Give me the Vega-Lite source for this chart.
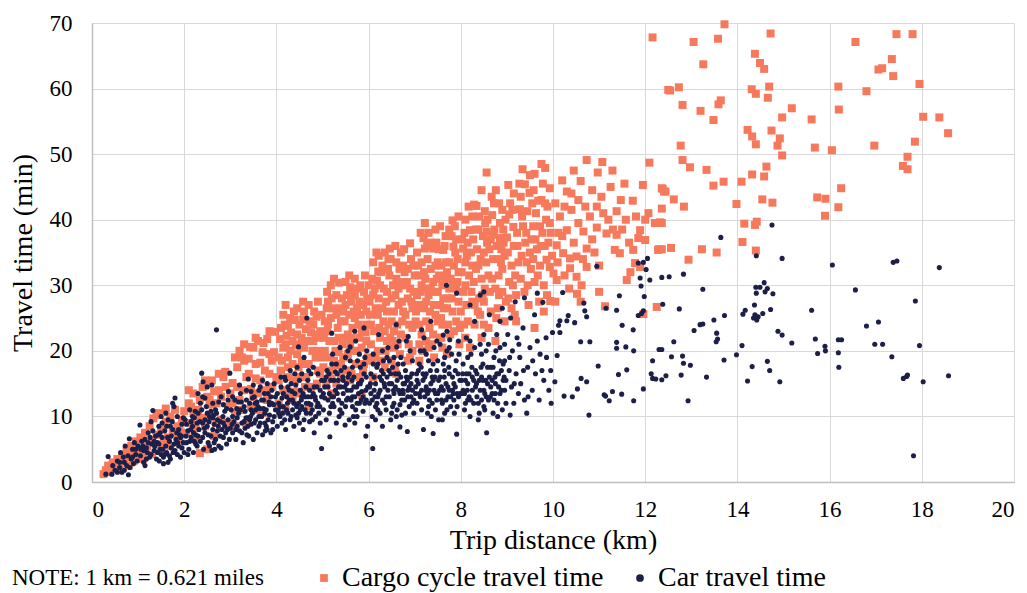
{
"$schema":"https://vega.github.io/schema/vega-lite/v6.json",
"width":922,"height":459,
"autosize":"none",
"padding":{"left":92,"top":23,"right":13,"bottom":111},
"background":"white",
"config":{"font":"Liberation Serif","view":{"stroke":null},
"axis":{"gridColor":"#d9d9d9","gridWidth":1,"domainColor":"#bfbfbf","domainWidth":1.5,"ticks":false,"tickSize":0,"labelFont":"Liberation Serif","titleFont":"Liberation Serif","labelColor":"#000","titleColor":"#000","labelFontSize":23,"titleFontSize":28,"titleFontWeight":"normal"},
"legend":{"labelFont":"Liberation Serif","titleFont":"Liberation Serif"}},
"datasets":{
"cargo":[
{"x":0.25,"y":1.2},{"x":0.3,"y":1.8},{"x":0.35,"y":2.5},{"x":0.4,"y":1.5},{"x":0.45,"y":3.0},{"x":0.5,"y":2.2},{"x":0.55,"y":3.5},{"x":0.6,"y":2.8},{"x":0.65,"y":4.0},{"x":0.7,"y":3.2},{"x":0.75,"y":4.8},{"x":0.8,"y":3.8},{"x":0.85,"y":5.5},{"x":0.9,"y":4.4},{"x":0.95,"y":6.2},{"x":1.0,"y":5.0},{"x":0.6,"y":1.8},{"x":0.8,"y":2.5},{"x":0.9,"y":3.2},{"x":1.0,"y":3.8},
{"x":1.05,"y":6.8},{"x":1.1,"y":4.5},{"x":1.15,"y":7.5},{"x":1.2,"y":5.5},{"x":1.25,"y":8.5},{"x":1.3,"y":6.3},{"x":1.33,"y":9.7},{"x":1.4,"y":7.2},{"x":1.45,"y":10.5},{"x":1.5,"y":8.0},{"x":1.55,"y":5.8},{"x":1.6,"y":9.2},{"x":1.65,"y":6.8},{"x":1.7,"y":10.0},{"x":1.75,"y":7.5},{"x":1.8,"y":11.0},{"x":1.85,"y":8.5},{"x":1.9,"y":6.5},{"x":1.95,"y":9.5},{"x":2.0,"y":10.8},{"x":1.3,"y":4.2},{"x":1.5,"y":4.8},{"x":1.7,"y":5.5},{"x":1.9,"y":7.8},{"x":1.1,"y":3.5},{"x":1.4,"y":10.2},{"x":1.6,"y":11.2},
{"x":2.05,"y":7.5},{"x":2.1,"y":12.0},{"x":2.15,"y":9.0},{"x":2.2,"y":13.5},{"x":2.25,"y":6.5},{"x":2.3,"y":11.0},{"x":2.34,"y":12.5},{"x":2.4,"y":14.5},{"x":2.45,"y":8.5},{"x":2.5,"y":13.0},{"x":2.55,"y":10.0},{"x":2.6,"y":15.5},{"x":2.65,"y":7.0},{"x":2.7,"y":12.0},{"x":2.75,"y":14.0},{"x":2.8,"y":9.5},{"x":2.85,"y":16.0},{"x":2.89,"y":16.8},{"x":2.95,"y":11.5},{"x":3.0,"y":13.5},{"x":2.2,"y":10.5},{"x":2.4,"y":9.8},{"x":2.6,"y":11.8},{"x":2.8,"y":13.0},{"x":2.5,"y":5.0},{"x":2.34,"y":4.4},{"x":2.1,"y":14.0},
{"x":2.15,"y":11.5},{"x":2.35,"y":9.5},{"x":2.55,"y":12.5},{"x":2.7,"y":9.0},{"x":2.9,"y":14.5},{"x":2.45,"y":15.5},{"x":2.65,"y":13.8},{"x":2.95,"y":9.0},{"x":2.25,"y":8.2},{"x":2.75,"y":16.5},
{"x":3.05,"y":15.1},{"x":3.1,"y":10.5},{"x":3.15,"y":17.5},{"x":3.2,"y":12.5},{"x":3.25,"y":19.0},{"x":3.3,"y":14.0},{"x":3.35,"y":9.0},{"x":3.4,"y":16.5},{"x":3.43,"y":20.6},{"x":3.5,"y":13.0},{"x":3.55,"y":18.0},{"x":3.6,"y":11.0},{"x":3.65,"y":15.5},{"x":3.72,"y":21.2},{"x":3.75,"y":17.0},{"x":3.8,"y":12.5},{"x":3.85,"y":19.5},{"x":3.9,"y":14.5},{"x":3.97,"y":22.9},{"x":4.0,"y":16.0},{"x":3.3,"y":18.5},{"x":3.5,"y":20.5},{"x":3.7,"y":19.8},{"x":3.6,"y":13.5},{"x":3.9,"y":18.5},{"x":3.1,"y":8.5},{"x":3.45,"y":11.5},
{"x":3.05,"y":12.0},{"x":3.15,"y":14.5},{"x":3.25,"y":11.0},{"x":3.35,"y":16.0},{"x":3.45,"y":14.2},{"x":3.55,"y":15.8},{"x":3.65,"y":18.2},{"x":3.75,"y":14.0},{"x":3.85,"y":16.5},{"x":3.95,"y":19.8},{"x":3.2,"y":20.0},{"x":3.4,"y":18.8},{"x":3.6,"y":21.5},{"x":3.8,"y":21.8},{"x":3.7,"y":10.5},{"x":3.3,"y":21.0},{"x":3.55,"y":22.0},{"x":3.85,"y":23.0},{"x":3.1,"y":19.0},
{"x":4.05,"y":19.0},{"x":4.1,"y":23.5},{"x":4.15,"y":14.0},{"x":4.2,"y":21.0},{"x":4.22,"y":22.3},{"x":4.25,"y":17.5},{"x":4.3,"y":25.0},{"x":4.35,"y":12.5},{"x":4.4,"y":24.7},{"x":4.45,"y":19.5},{"x":4.5,"y":16.0},{"x":4.55,"y":22.0},{"x":4.6,"y":26.0},{"x":4.64,"y":23.3},{"x":4.7,"y":18.0},{"x":4.75,"y":14.5},{"x":4.8,"y":21.5},{"x":4.87,"y":25.2},{"x":4.9,"y":17.0},{"x":4.95,"y":23.0},{"x":4.1,"y":17.0},{"x":4.3,"y":20.0},{"x":4.5,"y":13.5},{"x":4.7,"y":11.5},{"x":4.4,"y":15.5},{"x":4.6,"y":20.5},{"x":4.8,"y":24.0},{"x":4.2,"y":11.0},{"x":4.9,"y":20.0},
{"x":4.05,"y":15.5},{"x":4.15,"y":20.5},{"x":4.25,"y":23.8},{"x":4.35,"y":18.0},{"x":4.45,"y":22.5},{"x":4.55,"y":18.5},{"x":4.65,"y":16.0},{"x":4.75,"y":22.8},{"x":4.85,"y":19.0},{"x":4.95,"y":16.5},{"x":4.15,"y":25.5},{"x":4.5,"y":24.0},{"x":4.7,"y":27.0},{"x":4.9,"y":27.5},{"x":4.35,"y":21.5},{"x":4.05,"y":12.0},
{"x":4.12,"y":18.5},{"x":4.28,"y":16.0},{"x":4.42,"y":20.8},{"x":4.58,"y":24.8},{"x":4.62,"y":18.0},{"x":4.78,"y":20.0},{"x":4.92,"y":22.0},{"x":4.2,"y":27.0},{"x":4.45,"y":26.5},{"x":4.68,"y":21.5},{"x":4.82,"y":26.0},{"x":4.98,"y":25.5},{"x":4.3,"y":13.0},{"x":4.62,"y":14.5},{"x":4.88,"y":15.0},
{"x":4.08,"y":21.8},{"x":4.18,"y":24.0},{"x":4.32,"y":22.8},{"x":4.38,"y":26.0},{"x":4.48,"y":17.5},{"x":4.52,"y":21.0},{"x":4.72,"y":24.5},{"x":4.85,"y":22.5},{"x":4.95,"y":19.0},{"x":4.25,"y":19.0},{"x":4.58,"y":27.5},{"x":4.4,"y":13.8},
{"x":5.05,"y":20.0},{"x":5.09,"y":26.5},{"x":5.1,"y":23.0},{"x":5.15,"y":17.0},{"x":5.2,"y":28.0},{"x":5.25,"y":21.5},{"x":5.3,"y":15.0},{"x":5.36,"y":30.4},{"x":5.4,"y":24.5},{"x":5.45,"y":19.0},{"x":5.5,"y":27.0},{"x":5.55,"y":22.5},{"x":5.6,"y":29.7},{"x":5.63,"y":16.5},{"x":5.67,"y":29.3},{"x":5.7,"y":25.0},{"x":5.75,"y":20.0},{"x":5.8,"y":27.5},{"x":5.85,"y":23.0},{"x":5.9,"y":18.0},{"x":5.95,"y":26.0},{"x":6.0,"y":30.0},{"x":5.2,"y":13.5},{"x":5.4,"y":18.0},{"x":5.85,"y":13.3},{"x":5.3,"y":25.5},{"x":5.6,"y":21.0},{"x":5.8,"y":16.0},{"x":5.1,"y":19.0},{"x":5.7,"y":28.5},{"x":5.95,"y":21.5},
{"x":5.05,"y":24.5},{"x":5.15,"y":21.5},{"x":5.25,"y":18.5},{"x":5.35,"y":22.0},{"x":5.45,"y":26.0},{"x":5.55,"y":19.5},{"x":5.65,"y":23.5},{"x":5.75,"y":26.5},{"x":5.85,"y":20.5},{"x":5.95,"y":24.0},{"x":5.1,"y":29.0},{"x":5.3,"y":28.5},{"x":5.5,"y":30.5},{"x":5.7,"y":31.0},{"x":5.9,"y":29.0},{"x":5.4,"y":16.0},{"x":5.6,"y":15.5},{"x":5.8,"y":22.0},{"x":5.2,"y":15.8},{"x":5.35,"y":19.8},
{"x":5.02,"y":17.5},{"x":5.18,"y":25.0},{"x":5.28,"y":20.0},{"x":5.42,"y":28.0},{"x":5.48,"y":22.0},{"x":5.58,"y":25.5},{"x":5.68,"y":20.0},{"x":5.78,"y":24.0},{"x":5.88,"y":27.0},{"x":5.98,"y":19.0},{"x":5.12,"y":27.5},{"x":5.38,"y":26.5},{"x":5.62,"y":27.5},{"x":5.82,"y":30.0},{"x":5.52,"y":17.0},{"x":5.72,"y":18.0},{"x":5.25,"y":31.0},{"x":5.92,"y":31.5},
{"x":5.03,"y":22.0},{"x":5.12,"y":24.0},{"x":5.22,"y":26.5},{"x":5.33,"y":23.5},{"x":5.43,"y":21.0},{"x":5.53,"y":28.5},{"x":5.63,"y":22.0},{"x":5.73,"y":29.5},{"x":5.83,"y":25.5},{"x":5.93,"y":22.8},{"x":5.08,"y":15.0},{"x":5.28,"y":17.8},{"x":5.48,"y":24.5},{"x":5.68,"y":26.0},{"x":5.88,"y":17.0},{"x":5.97,"y":28.0},{"x":5.58,"y":31.5},{"x":5.18,"y":30.0},
{"x":6.05,"y":24.0},{"x":6.1,"y":28.5},{"x":6.15,"y":19.0},{"x":6.18,"y":30.7},{"x":6.21,"y":32.1},{"x":6.25,"y":22.0},{"x":6.3,"y":26.5},{"x":6.35,"y":17.5},{"x":6.4,"y":29.0},{"x":6.43,"y":34.0},{"x":6.46,"y":35.6},{"x":6.5,"y":24.5},{"x":6.55,"y":20.5},{"x":6.6,"y":31.0},{"x":6.65,"y":27.0},{"x":6.7,"y":22.5},{"x":6.75,"y":33.0},{"x":6.8,"y":25.5},{"x":6.85,"y":18.5},{"x":6.9,"y":36.4},{"x":6.9,"y":29.5},{"x":6.95,"y":23.5},{"x":7.0,"y":31.5},{"x":7.0,"y":27.0},{"x":6.2,"y":25.5},{"x":6.4,"y":21.5},{"x":6.6,"y":16.5},{"x":6.8,"y":30.0},{"x":6.1,"y":16.0},{"x":6.5,"y":28.0},{"x":6.3,"y":33.0},{"x":6.7,"y":35.0},{"x":6.95,"y":20.0},{"x":6.55,"y":26.0},
{"x":6.05,"y":21.0},{"x":6.15,"y":26.5},{"x":6.25,"y":30.0},{"x":6.35,"y":23.0},{"x":6.45,"y":31.5},{"x":6.55,"y":23.0},{"x":6.65,"y":29.5},{"x":6.75,"y":26.0},{"x":6.85,"y":32.5},{"x":6.95,"y":26.5},{"x":6.1,"y":33.5},{"x":6.4,"y":26.0},{"x":6.6,"y":33.5},{"x":6.8,"y":22.0},{"x":6.9,"y":19.0},{"x":6.2,"y":20.0},{"x":6.5,"y":18.5},{"x":6.7,"y":30.5},{"x":6.35,"y":35.0},{"x":6.85,"y":28.0},
{"x":6.02,"y":27.5},{"x":6.12,"y":23.0},{"x":6.22,"y":28.0},{"x":6.28,"y":18.5},{"x":6.38,"y":27.5},{"x":6.42,"y":32.5},{"x":6.52,"y":21.5},{"x":6.58,"y":28.5},{"x":6.62,"y":24.0},{"x":6.72,"y":27.5},{"x":6.78,"y":32.0},{"x":6.88,"y":24.0},{"x":6.98,"y":29.0},{"x":6.08,"y":31.0},{"x":6.32,"y":24.5},{"x":6.48,"y":34.0},{"x":6.68,"y":19.5},{"x":6.92,"y":34.0},{"x":6.22,"y":34.5},{"x":6.58,"y":36.0},
{"x":6.03,"y":25.5},{"x":6.13,"y":29.5},{"x":6.23,"y":23.5},{"x":6.33,"y":29.5},{"x":6.43,"y":24.0},{"x":6.53,"y":30.0},{"x":6.63,"y":21.0},{"x":6.73,"y":24.5},{"x":6.83,"y":30.5},{"x":6.93,"y":27.5},{"x":6.07,"y":18.5},{"x":6.27,"y":32.0},{"x":6.47,"y":22.0},{"x":6.67,"y":32.5},{"x":6.87,"y":21.0},{"x":6.17,"y":35.0},{"x":6.57,"y":17.5},{"x":6.77,"y":35.5},{"x":6.97,"y":33.0},{"x":6.37,"y":20.0},
{"x":7.05,"y":35.0},{"x":7.1,"y":24.0},{"x":7.15,"y":30.0},{"x":7.19,"y":37.2},{"x":7.22,"y":39.5},{"x":7.22,"y":35.6},{"x":7.25,"y":27.5},{"x":7.3,"y":20.5},{"x":7.35,"y":32.5},{"x":7.4,"y":35.6},{"x":7.45,"y":25.5},{"x":7.5,"y":29.0},{"x":7.55,"y":22.0},{"x":7.62,"y":35.4},{"x":7.65,"y":31.0},{"x":7.7,"y":26.5},{"x":7.75,"y":33.5},{"x":7.82,"y":39.9},{"x":7.84,"y":35.9},{"x":7.85,"y":23.0},{"x":7.9,"y":29.5},{"x":7.95,"y":32.0},{"x":8.0,"y":26.0},{"x":7.1,"y":18.5},{"x":7.3,"y":28.5},{"x":7.5,"y":33.5},{"x":7.7,"y":19.5},{"x":7.9,"y":37.0},{"x":7.6,"y":24.0},{"x":7.4,"y":30.5},{"x":7.2,"y":32.0},{"x":7.8,"y":28.0},{"x":7.15,"y":22.5},
{"x":7.05,"y":28.5},{"x":7.15,"y":33.5},{"x":7.25,"y":24.5},{"x":7.35,"y":29.5},{"x":7.45,"y":33.0},{"x":7.55,"y":27.0},{"x":7.65,"y":36.0},{"x":7.75,"y":29.5},{"x":7.85,"y":33.0},{"x":7.95,"y":27.5},{"x":7.1,"y":21.0},{"x":7.3,"y":38.0},{"x":7.5,"y":24.5},{"x":7.7,"y":32.0},{"x":7.9,"y":24.5},{"x":7.4,"y":22.5},{"x":7.6,"y":30.0},{"x":7.8,"y":37.5},{"x":7.2,"y":26.5},{"x":7.45,"y":38.5},
{"x":7.02,"y":24.5},{"x":7.08,"y":31.5},{"x":7.12,"y":27.0},{"x":7.22,"y":29.5},{"x":7.28,"y":34.0},{"x":7.32,"y":23.5},{"x":7.42,"y":27.0},{"x":7.48,"y":31.0},{"x":7.52,"y":35.5},{"x":7.58,"y":22.0},{"x":7.62,"y":28.0},{"x":7.68,"y":33.5},{"x":7.72,"y":24.0},{"x":7.78,"y":31.0},{"x":7.82,"y":26.0},{"x":7.88,"y":35.0},{"x":7.92,"y":30.5},{"x":7.98,"y":23.5},{"x":7.35,"y":36.5},{"x":7.55,"y":39.0},{"x":7.75,"y":38.5},{"x":7.95,"y":40.5},{"x":7.25,"y":21.5},{"x":7.6,"y":20.5},
{"x":7.03,"y":26.0},{"x":7.13,"y":29.0},{"x":7.23,"y":31.0},{"x":7.33,"y":26.0},{"x":7.43,"y":29.0},{"x":7.53,"y":31.5},{"x":7.63,"y":26.5},{"x":7.73,"y":28.0},{"x":7.83,"y":30.0},{"x":7.93,"y":34.0},{"x":7.07,"y":33.0},{"x":7.27,"y":36.0},{"x":7.47,"y":36.5},{"x":7.67,"y":37.5},{"x":7.87,"y":39.0},{"x":7.17,"y":20.0},{"x":7.37,"y":21.0},{"x":7.57,"y":25.0},{"x":7.77,"y":22.5},{"x":7.97,"y":21.0},{"x":7.13,"y":38.0},{"x":7.58,"y":33.0},{"x":7.42,"y":19.0},
{"x":8.05,"y":35.6},{"x":8.1,"y":30.0},{"x":8.15,"y":24.5},{"x":8.2,"y":38.4},{"x":8.25,"y":33.0},{"x":8.29,"y":42.3},{"x":8.34,"y":42.1},{"x":8.38,"y":38.5},{"x":8.4,"y":28.0},{"x":8.45,"y":22.0},{"x":8.52,"y":41.3},{"x":8.56,"y":47.2},{"x":8.56,"y":38.2},{"x":8.6,"y":31.5},{"x":8.65,"y":26.0},{"x":8.68,"y":40.7},{"x":8.71,"y":37.7},{"x":8.76,"y":44.5},{"x":8.8,"y":34.0},{"x":8.83,"y":42.5},{"x":8.85,"y":37.2},{"x":8.9,"y":29.0},{"x":8.95,"y":24.5},{"x":9.0,"y":37.3},{"x":8.2,"y":20.5},{"x":8.5,"y":35.0},{"x":8.75,"y":21.5},{"x":8.3,"y":27.0},{"x":8.9,"y":32.5},{"x":8.1,"y":33.5},
{"x":8.05,"y":29.0},{"x":8.15,"y":36.5},{"x":8.25,"y":27.5},{"x":8.35,"y":35.5},{"x":8.45,"y":31.0},{"x":8.55,"y":33.5},{"x":8.65,"y":37.0},{"x":8.75,"y":29.5},{"x":8.85,"y":39.5},{"x":8.95,"y":34.5},{"x":8.1,"y":40.0},{"x":8.4,"y":40.5},{"x":8.6,"y":23.5},{"x":8.8,"y":26.5},{"x":8.3,"y":24.0},{"x":8.5,"y":27.5},{"x":8.7,"y":34.0},{"x":8.9,"y":41.5},
{"x":8.02,"y":32.0},{"x":8.08,"y":38.0},{"x":8.12,"y":27.0},{"x":8.18,"y":31.5},{"x":8.22,"y":35.0},{"x":8.28,"y":30.5},{"x":8.32,"y":38.5},{"x":8.38,"y":33.0},{"x":8.42,"y":25.5},{"x":8.48,"y":37.5},{"x":8.52,"y":29.5},{"x":8.58,"y":40.0},{"x":8.62,"y":35.5},{"x":8.68,"y":31.0},{"x":8.72,"y":42.5},{"x":8.78,"y":36.0},{"x":8.82,"y":31.5},{"x":8.88,"y":35.5},{"x":8.92,"y":38.5},{"x":8.98,"y":27.5},{"x":8.45,"y":44.5},{"x":8.25,"y":40.5},
{"x":8.03,"y":37.0},{"x":8.13,"y":34.5},{"x":8.23,"y":29.0},{"x":8.33,"y":32.5},{"x":8.43,"y":34.0},{"x":8.53,"y":39.5},{"x":8.63,"y":29.0},{"x":8.73,"y":38.5},{"x":8.83,"y":28.5},{"x":8.93,"y":36.5},{"x":8.07,"y":24.0},{"x":8.27,"y":37.0},{"x":8.47,"y":28.5},{"x":8.67,"y":43.5},{"x":8.87,"y":33.5},{"x":8.17,"y":42.0},{"x":8.37,"y":26.0},{"x":8.57,"y":36.5},{"x":8.77,"y":25.0},{"x":8.97,"y":40.0},{"x":8.1,"y":22.0},{"x":8.5,"y":24.0},
{"x":9.03,"y":45.3},{"x":9.05,"y":40.8},{"x":9.1,"y":33.0},{"x":9.14,"y":38.9},{"x":9.2,"y":28.5},{"x":9.28,"y":41.6},{"x":9.34,"y":47.7},{"x":9.39,"y":45.4},{"x":9.44,"y":41.3},{"x":9.49,"y":44.1},{"x":9.5,"y":46.8},{"x":9.5,"y":35.0},{"x":9.57,"y":39.0},{"x":9.6,"y":30.5},{"x":9.68,"y":42.9},{"x":9.72,"y":39.0},{"x":9.75,"y":48.5},{"x":9.75,"y":43.0},{"x":9.8,"y":26.0},{"x":9.83,"y":47.9},{"x":9.86,"y":33.9},{"x":9.93,"y":44.8},{"x":9.93,"y":32.8},{"x":9.94,"y":27.6},{"x":9.2,"y":24.5},{"x":9.4,"y":36.5},{"x":9.6,"y":23.5},{"x":9.3,"y":31.0},{"x":9.9,"y":36.5},
{"x":9.05,"y":30.5},{"x":9.15,"y":36.0},{"x":9.25,"y":33.5},{"x":9.35,"y":39.0},{"x":9.45,"y":30.0},{"x":9.55,"y":42.5},{"x":9.65,"y":35.5},{"x":9.7,"y":27.5},{"x":9.85,"y":40.0},{"x":9.95,"y":38.0},{"x":9.1,"y":26.5},{"x":9.3,"y":43.5},{"x":9.6,"y":47.0},{"x":9.8,"y":30.0},
{"x":9.02,"y":35.0},{"x":9.12,"y":41.5},{"x":9.18,"y":31.5},{"x":9.22,"y":38.0},{"x":9.32,"y":34.5},{"x":9.38,"y":29.0},{"x":9.42,"y":38.0},{"x":9.52,"y":32.5},{"x":9.58,"y":44.5},{"x":9.62,"y":37.0},{"x":9.72,"y":33.0},{"x":9.78,"y":45.5},{"x":9.82,"y":36.0},{"x":9.88,"y":42.0},{"x":9.98,"y":34.5},{"x":9.15,"y":44.0},
{"x":9.03,"y":28.0},{"x":9.13,"y":30.0},{"x":9.23,"y":36.0},{"x":9.33,"y":40.5},{"x":9.43,"y":33.5},{"x":9.53,"y":37.0},{"x":9.63,"y":41.0},{"x":9.73,"y":36.0},{"x":9.83,"y":42.5},{"x":9.93,"y":39.5},{"x":9.07,"y":42.5},{"x":9.27,"y":45.5},{"x":9.47,"y":27.0},{"x":9.67,"y":31.5},{"x":9.87,"y":28.5},{"x":9.17,"y":25.5},{"x":9.57,"y":34.0},{"x":9.77,"y":38.0},
{"x":10.1,"y":33.5},{"x":10.2,"y":37.5},{"x":10.35,"y":29.5},{"x":10.4,"y":44.0},{"x":10.55,"y":39.5},{"x":10.65,"y":34.0},{"x":10.7,"y":42.0},{"x":10.85,"y":37.0},{"x":10.95,"y":42.0},{"x":10.05,"y":27.5},{"x":10.25,"y":42.0},{"x":10.6,"y":27.5},
{"x":10.05,"y":42.5},{"x":10.12,"y":38.0},{"x":10.2,"y":46.0},{"x":10.25,"y":31.5},{"x":10.4,"y":41.5},{"x":10.45,"y":36.5},{"x":10.55,"y":43.0},{"x":10.62,"y":30.0},{"x":10.8,"y":40.5},{"x":10.85,"y":44.5},{"x":10.9,"y":35.0},{"x":11.0,"y":33.0},{"x":11.05,"y":43.5},{"x":11.25,"y":45.0},{"x":11.3,"y":38.5},{"x":11.5,"y":38.5},{"x":11.55,"y":45.5},{"x":11.65,"y":36.5},{"x":11.8,"y":40.5},{"x":11.68,"y":32.0},{"x":10.45,"y":47.5},{"x":11.0,"y":29.0},
{"x":10.01,"y":31.8},{"x":10.08,"y":30.8},{"x":10.08,"y":36.1},{"x":10.15,"y":40.5},{"x":10.22,"y":34.9},{"x":10.3,"y":44.3},{"x":10.3,"y":38.4},{"x":10.37,"y":34.1},{"x":10.37,"y":32.6},{"x":10.51,"y":34.4},{"x":10.51,"y":31.3},{"x":10.52,"y":28.7},{"x":10.6,"y":45.9},{"x":10.66,"y":38.2},{"x":10.73,"y":49.1},{"x":10.73,"y":35.6},{"x":10.73,"y":32.8},{"x":10.95,"y":38.8},{"x":10.97,"y":47.2},{"x":11.07,"y":48.8},{"x":11.09,"y":41.0},{"x":11.13,"y":26.8},{"x":11.16,"y":37.9},{"x":11.2,"y":40.0},{"x":11.29,"y":47.5},{"x":11.34,"y":35.4},{"x":11.38,"y":41.3},{"x":11.38,"y":37.7},{"x":11.45,"y":34.9},{"x":11.47,"y":43.0},{"x":11.58,"y":40.0},{"x":11.6,"y":30.8},{"x":11.73,"y":42.9},{"x":11.74,"y":35.4},{"x":11.78,"y":33.4},{"x":11.85,"y":37.2},{"x":11.89,"y":38.4},{"x":11.89,"y":32.8},{"x":11.95,"y":45.3},{"x":12.0,"y":40.0},{"x":12.0,"y":36.9},{"x":12.07,"y":41.0},{"x":12.09,"y":48.7},{"x":12.16,"y":67.8},{"x":12.21,"y":39.5},{"x":12.25,"y":26.7},{"x":12.28,"y":35.4},{"x":12.32,"y":39.6},{"x":12.36,"y":44.8},{"x":12.41,"y":44.3},{"x":12.5,"y":59.8},{"x":12.36,"y":41.7},{"x":12.36,"y":39.5},{"x":12.36,"y":35.5},{"x":11.96,"y":25.6},{"x":12.3,"y":35.5},
{"x":13.72,"y":69.8},{"x":13.05,"y":67.1},{"x":13.58,"y":67.6},{"x":13.26,"y":63.7},{"x":14.72,"y":68.4},{"x":12.54,"y":59.7},{"x":12.73,"y":60.2},{"x":12.81,"y":57.5},{"x":13.2,"y":56.6},{"x":13.48,"y":55.2},{"x":13.59,"y":57.6},{"x":13.64,"y":58.2},{"x":14.38,"y":65.3},{"x":14.49,"y":63.9},{"x":14.58,"y":63.0},{"x":14.31,"y":59.9},{"x":14.4,"y":59.2},{"x":14.69,"y":60.3},{"x":14.66,"y":58.6},{"x":15.18,"y":57.0},{"x":14.97,"y":55.6},{"x":15.61,"y":55.3},{"x":16.19,"y":60.3},{"x":16.2,"y":56.8},{"x":16.56,"y":67.1},{"x":16.8,"y":59.6},{"x":17.06,"y":62.9},{"x":17.14,"y":63.1},{"x":17.35,"y":64.5},{"x":17.38,"y":61.9},{"x":17.45,"y":68.3},{"x":17.8,"y":68.3},{"x":17.95,"y":60.7},{"x":18.03,"y":55.7},{"x":18.38,"y":55.6},{"x":18.57,"y":53.2},{"x":17.85,"y":51.9},{"x":17.69,"y":49.6},{"x":17.59,"y":48.2},{"x":17.69,"y":47.7},{"x":16.97,"y":51.3},{"x":16.05,"y":50.6},{"x":15.68,"y":51.0},{"x":16.25,"y":44.8},{"x":15.73,"y":43.4},{"x":15.91,"y":43.2},{"x":16.19,"y":41.9},{"x":15.9,"y":40.6},{"x":14.74,"y":53.6},{"x":14.92,"y":52.4},{"x":14.87,"y":51.3},{"x":14.97,"y":49.8},{"x":14.22,"y":53.7},{"x":14.32,"y":52.7},{"x":14.4,"y":51.5},{"x":12.77,"y":51.3},{"x":12.81,"y":49.1},{"x":12.97,"y":48.0},{"x":13.33,"y":47.6},{"x":13.48,"y":45.2},{"x":13.7,"y":45.8},{"x":14.09,"y":45.8},{"x":14.32,"y":46.9},{"x":14.58,"y":46.6},{"x":14.63,"y":48.1},{"x":13.98,"y":42.4},{"x":14.54,"y":43.1},{"x":14.76,"y":42.6},{"x":12.38,"y":44.7},{"x":12.44,"y":44.3},{"x":12.62,"y":43.1},{"x":12.84,"y":42.0},{"x":14.15,"y":39.4},{"x":14.38,"y":39.2},{"x":14.42,"y":39.7},{"x":14.11,"y":36.6},{"x":14.4,"y":35.3},{"x":13.23,"y":35.5},{"x":13.55,"y":35.0},{"x":12.94,"y":33.9},{"x":12.56,"y":35.7}
],
"car":[
{"x":0.3,"y":1.2},{"x":0.35,"y":3.9},{"x":0.43,"y":1.2},{"x":0.45,"y":2.5},{"x":0.5,"y":1.8},{"x":0.55,"y":3.2},{"x":0.6,"y":2.2},{"x":0.62,"y":4.5},{"x":0.65,"y":1.5},{"x":0.7,"y":3.0},{"x":0.72,"y":5.5},{"x":0.75,"y":2.5},{"x":0.78,"y":4.0},{"x":0.81,"y":6.6},{"x":0.85,"y":3.5},{"x":0.88,"y":5.0},{"x":0.9,"y":2.8},{"x":0.92,"y":6.0},{"x":0.95,"y":4.2},{"x":1.0,"y":5.5},{"x":0.98,"y":3.2},{"x":0.7,"y":1.8},{"x":0.79,"y":1.1},
{"x":0.55,"y":1.5},{"x":0.68,"y":3.8},{"x":0.82,"y":2.2},{"x":0.95,"y":5.0},{"x":0.6,"y":3.0},{"x":0.88,"y":3.8},
{"x":1.04,"y":8.7},{"x":1.05,"y":4.0},{"x":1.1,"y":5.5},{"x":1.12,"y":3.0},{"x":1.15,"y":6.5},{"x":1.2,"y":4.5},{"x":1.22,"y":7.5},{"x":1.25,"y":3.8},{"x":1.3,"y":5.8},{"x":1.32,"y":10.9},{"x":1.35,"y":4.8},{"x":1.38,"y":7.0},{"x":1.4,"y":3.5},{"x":1.42,"y":6.0},{"x":1.45,"y":8.5},{"x":1.48,"y":5.0},{"x":1.5,"y":4.2},{"x":1.52,"y":6.8},{"x":1.55,"y":3.8},{"x":1.58,"y":7.8},{"x":1.6,"y":5.5},{"x":1.62,"y":4.5},{"x":1.65,"y":9.5},{"x":1.68,"y":6.2},{"x":1.7,"y":3.5},{"x":1.72,"y":5.2},{"x":1.75,"y":8.0},{"x":1.78,"y":11.5},{"x":1.8,"y":12.8},{"x":1.8,"y":4.8},{"x":1.82,"y":6.5},{"x":1.85,"y":10.0},{"x":1.88,"y":5.5},{"x":1.9,"y":7.2},{"x":1.92,"y":3.8},{"x":1.95,"y":8.8},{"x":1.98,"y":6.0},{"x":2.0,"y":4.5},{"x":1.15,"y":2.5},{"x":1.55,"y":2.8},{"x":1.28,"y":9.2},{"x":1.6,"y":10.5},{"x":1.75,"y":12.0},
{"x":1.08,"y":6.2},{"x":1.18,"y":5.2},{"x":1.28,"y":4.2},{"x":1.32,"y":7.8},{"x":1.42,"y":4.5},{"x":1.48,"y":7.5},{"x":1.58,"y":4.2},{"x":1.62,"y":8.5},{"x":1.72,"y":7.0},{"x":1.78,"y":5.8},{"x":1.85,"y":4.2},{"x":1.92,"y":6.8},{"x":1.98,"y":9.8},{"x":1.45,"y":5.8},{"x":1.65,"y":3.0},{"x":1.88,"y":8.0},
{"x":1.12,"y":4.8},{"x":1.22,"y":6.0},{"x":1.35,"y":6.2},{"x":1.46,"y":3.2},{"x":1.52,"y":9.0},{"x":1.68,"y":4.0},{"x":1.74,"y":9.2},{"x":1.84,"y":7.5},{"x":1.95,"y":5.2},{"x":2.08,"y":4.2},{"x":2.2,"y":7.5},{"x":2.28,"y":9.0},{"x":2.4,"y":6.8},{"x":2.5,"y":10.5},{"x":2.62,"y":8.0},{"x":2.68,"y":11.0},{"x":2.8,"y":5.2},{"x":2.88,"y":8.5},{"x":2.95,"y":12.5},{"x":2.62,"y":9.8},{"x":2.35,"y":12.0},{"x":2.15,"y":9.2},
{"x":1.06,"y":5.0},{"x":1.18,"y":3.5},{"x":1.26,"y":6.8},{"x":1.36,"y":5.4},{"x":1.44,"y":7.2},{"x":1.54,"y":5.0},{"x":1.64,"y":6.8},{"x":1.7,"y":8.5},{"x":1.76,"y":4.5},{"x":1.86,"y":6.0},{"x":1.94,"y":7.0},{"x":1.5,"y":10.0},
{"x":2.02,"y":9.5},{"x":2.05,"y":6.0},{"x":2.08,"y":7.8},{"x":2.1,"y":5.0},{"x":2.12,"y":11.0},{"x":2.15,"y":6.8},{"x":2.18,"y":8.5},{"x":2.2,"y":4.5},{"x":2.22,"y":9.8},{"x":2.25,"y":7.2},{"x":2.28,"y":5.5},{"x":2.3,"y":10.5},{"x":2.32,"y":8.0},{"x":2.35,"y":6.2},{"x":2.38,"y":16.6},{"x":2.41,"y":15.3},{"x":2.4,"y":9.0},{"x":2.42,"y":5.0},{"x":2.45,"y":7.5},{"x":2.48,"y":11.5},{"x":2.5,"y":8.5},{"x":2.52,"y":6.0},{"x":2.55,"y":10.0},{"x":2.58,"y":7.0},{"x":2.6,"y":4.8},{"x":2.62,"y":12.0},{"x":2.65,"y":8.8},{"x":2.68,"y":6.5},{"x":2.7,"y":23.2},{"x":2.7,"y":10.5},{"x":2.72,"y":7.8},{"x":2.75,"y":5.5},{"x":2.78,"y":9.2},{"x":2.8,"y":13.0},{"x":2.82,"y":8.0},{"x":2.85,"y":6.8},{"x":2.88,"y":10.8},{"x":2.9,"y":7.5},{"x":2.92,"y":5.8},{"x":2.95,"y":9.5},{"x":2.99,"y":16.6},{"x":3.0,"y":8.2},{"x":2.5,"y":14.5},{"x":2.3,"y":13.5},{"x":2.6,"y":14.8},{"x":2.85,"y":11.8},
{"x":2.05,"y":8.8},{"x":2.12,"y":6.2},{"x":2.18,"y":10.0},{"x":2.25,"y":5.8},{"x":2.3,"y":7.0},{"x":2.38,"y":11.0},{"x":2.45,"y":9.5},{"x":2.52,"y":7.2},{"x":2.58,"y":10.8},{"x":2.65,"y":6.0},{"x":2.72,"y":9.5},{"x":2.78,"y":7.0},{"x":2.85,"y":9.0},{"x":2.92,"y":11.2},{"x":2.98,"y":6.5},{"x":2.55,"y":5.5},{"x":2.45,"y":12.8},{"x":2.75,"y":12.2},
{"x":2.04,"y":7.0},{"x":2.14,"y":8.0},{"x":2.24,"y":10.8},{"x":2.34,"y":9.2},{"x":2.44,"y":8.2},{"x":2.54,"y":9.2},{"x":2.64,"y":10.2},{"x":2.74,"y":8.5},{"x":2.84,"y":10.0},{"x":2.94,"y":8.0},{"x":2.22,"y":6.2},{"x":2.66,"y":5.0},{"x":2.96,"y":13.8},{"x":2.4,"y":13.0},
{"x":3.02,"y":11.0},{"x":3.05,"y":7.5},{"x":3.08,"y":9.2},{"x":3.1,"y":12.5},{"x":3.12,"y":6.5},{"x":3.15,"y":8.5},{"x":3.18,"y":10.5},{"x":3.2,"y":7.8},{"x":3.22,"y":13.5},{"x":3.25,"y":9.0},{"x":3.28,"y":6.0},{"x":3.3,"y":11.5},{"x":3.32,"y":8.2},{"x":3.35,"y":14.0},{"x":3.38,"y":9.8},{"x":3.39,"y":15.7},{"x":3.4,"y":7.0},{"x":3.42,"y":12.0},{"x":3.45,"y":8.8},{"x":3.48,"y":10.5},{"x":3.5,"y":6.5},{"x":3.52,"y":13.0},{"x":3.55,"y":9.5},{"x":3.58,"y":7.5},{"x":3.6,"y":11.5},{"x":3.62,"y":8.5},{"x":3.65,"y":14.5},{"x":3.68,"y":10.0},{"x":3.7,"y":7.2},{"x":3.72,"y":12.5},{"x":3.75,"y":9.0},{"x":3.78,"y":11.0},{"x":3.8,"y":8.0},{"x":3.82,"y":13.5},{"x":3.85,"y":10.2},{"x":3.88,"y":7.5},{"x":3.9,"y":12.0},{"x":3.92,"y":9.2},{"x":3.95,"y":15.0},{"x":3.98,"y":11.0},
{"x":3.05,"y":10.0},{"x":3.12,"y":8.0},{"x":3.18,"y":12.2},{"x":3.25,"y":7.5},{"x":3.32,"y":10.8},{"x":3.38,"y":8.5},{"x":3.45,"y":11.0},{"x":3.52,"y":9.0},{"x":3.58,"y":12.2},{"x":3.65,"y":9.0},{"x":3.72,"y":11.2},{"x":3.78,"y":8.5},{"x":3.85,"y":11.8},{"x":3.92,"y":8.0},{"x":3.98,"y":13.0},{"x":3.45,"y":13.8},{"x":3.62,"y":14.0},
{"x":3.05,"y":13.0},{"x":3.15,"y":9.8},{"x":3.22,"y":11.0},{"x":3.3,"y":9.2},{"x":3.35,"y":12.5},{"x":3.42,"y":9.5},{"x":3.48,"y":12.8},{"x":3.55,"y":11.0},{"x":3.62,"y":10.0},{"x":3.68,"y":12.5},{"x":3.75,"y":10.5},{"x":3.82,"y":9.5},{"x":3.88,"y":13.0},{"x":3.95,"y":10.0},{"x":3.7,"y":15.5},{"x":3.9,"y":14.0},
{"x":3.04,"y":8.8},{"x":3.14,"y":11.2},{"x":3.24,"y":12.2},{"x":3.34,"y":9.8},{"x":3.44,"y":10.0},{"x":3.54,"y":12.0},{"x":3.64,"y":11.2},{"x":3.74,"y":13.5},{"x":3.84,"y":12.2},{"x":3.94,"y":11.8},{"x":3.2,"y":14.8},{"x":3.5,"y":14.8},{"x":3.8,"y":15.0},{"x":3.36,"y":7.2},{"x":3.76,"y":7.8},
{"x":4.02,"y":8.5},{"x":4.05,"y":12.0},{"x":4.08,"y":10.0},{"x":4.1,"y":14.5},{"x":4.12,"y":9.0},{"x":4.15,"y":11.5},{"x":4.18,"y":16.0},{"x":4.2,"y":8.0},{"x":4.22,"y":13.0},{"x":4.25,"y":10.5},{"x":4.28,"y":12.5},{"x":4.3,"y":9.5},{"x":4.32,"y":15.0},{"x":4.35,"y":11.0},{"x":4.38,"y":8.5},{"x":4.4,"y":13.5},{"x":4.42,"y":10.2},{"x":4.45,"y":17.5},{"x":4.48,"y":12.0},{"x":4.5,"y":9.0},{"x":4.52,"y":14.0},{"x":4.55,"y":11.5},{"x":4.58,"y":8.0},{"x":4.6,"y":19.0},{"x":4.62,"y":13.0},{"x":4.65,"y":10.5},{"x":4.68,"y":15.5},{"x":4.7,"y":12.0},{"x":4.72,"y":9.2},{"x":4.75,"y":16.5},{"x":4.78,"y":11.0},{"x":4.8,"y":13.5},{"x":4.82,"y":7.5},{"x":4.85,"y":10.0},{"x":4.88,"y":14.5},{"x":4.9,"y":12.0},{"x":4.66,"y":25.0},{"x":4.95,"y":9.0},{"x":4.98,"y":15.5},{"x":4.98,"y":5.1},{"x":5.16,"y":6.9},{"x":4.48,"y":20.6},
{"x":4.05,"y":10.5},{"x":4.12,"y":12.8},{"x":4.18,"y":9.5},{"x":4.25,"y":14.5},{"x":4.32,"y":10.0},{"x":4.38,"y":12.0},{"x":4.45,"y":9.8},{"x":4.52,"y":11.0},{"x":4.58,"y":13.5},{"x":4.65,"y":12.0},{"x":4.72,"y":14.0},{"x":4.78,"y":9.5},{"x":4.85,"y":12.5},{"x":4.92,"y":10.5},{"x":4.98,"y":13.0},{"x":4.3,"y":17.0},{"x":4.55,"y":16.5},{"x":4.8,"y":17.5},
{"x":4.02,"y":13.5},{"x":4.08,"y":11.5},{"x":4.15,"y":13.5},{"x":4.22,"y":11.0},{"x":4.28,"y":14.0},{"x":4.35,"y":12.5},{"x":4.42,"y":14.8},{"x":4.48,"y":10.5},{"x":4.55,"y":13.0},{"x":4.62,"y":11.0},{"x":4.68,"y":13.0},{"x":4.75,"y":11.8},{"x":4.82,"y":14.5},{"x":4.88,"y":11.5},{"x":4.95,"y":14.0},{"x":4.2,"y":15.5},{"x":4.5,"y":15.5},{"x":4.75,"y":13.0},
{"x":4.04,"y":11.0},{"x":4.14,"y":10.5},{"x":4.24,"y":12.0},{"x":4.34,"y":13.8},{"x":4.44,"y":11.5},{"x":4.54,"y":12.5},{"x":4.64,"y":14.5},{"x":4.74,"y":10.5},{"x":4.84,"y":13.0},{"x":4.94,"y":11.5},{"x":4.1,"y":16.0},{"x":4.4,"y":16.5},{"x":4.7,"y":17.0},{"x":4.9,"y":16.5},{"x":4.6,"y":9.5},
{"x":5.02,"y":11.0},{"x":5.05,"y":14.5},{"x":5.08,"y":9.5},{"x":5.1,"y":17.0},{"x":5.12,"y":12.5},{"x":5.15,"y":10.5},{"x":5.18,"y":15.5},{"x":5.2,"y":13.0},{"x":5.2,"y":22.7},{"x":5.22,"y":19.5},{"x":5.25,"y":11.5},{"x":5.28,"y":14.0},{"x":5.3,"y":9.0},{"x":5.32,"y":16.5},{"x":5.35,"y":12.5},{"x":5.38,"y":20.5},{"x":5.4,"y":14.5},{"x":5.42,"y":10.5},{"x":5.45,"y":13.5},{"x":5.48,"y":17.5},{"x":5.49,"y":8.7},{"x":5.5,"y":11.5},{"x":5.52,"y":15.0},{"x":5.55,"y":12.8},{"x":5.58,"y":9.5},{"x":5.6,"y":18.5},{"x":5.6,"y":20.6},{"x":5.62,"y":14.0},{"x":5.65,"y":11.5},{"x":5.67,"y":10.0},{"x":5.68,"y":16.0},{"x":5.7,"y":13.0},{"x":5.72,"y":21.5},{"x":5.75,"y":10.0},{"x":5.78,"y":15.0},{"x":5.8,"y":12.0},{"x":5.82,"y":17.5},{"x":5.85,"y":13.8},{"x":5.88,"y":10.8},{"x":5.9,"y":16.5},{"x":5.92,"y":19.0},{"x":5.94,"y":7.0},{"x":5.95,"y":12.5},{"x":5.98,"y":8.5},{"x":5.7,"y":23.0},{"x":5.9,"y":23.5},
{"x":5.05,"y":12.8},{"x":5.12,"y":14.5},{"x":5.18,"y":11.5},{"x":5.25,"y":15.5},{"x":5.32,"y":13.5},{"x":5.38,"y":11.0},{"x":5.45,"y":15.5},{"x":5.52,"y":12.5},{"x":5.58,"y":16.5},{"x":5.65,"y":13.0},{"x":5.72,"y":11.0},{"x":5.78,"y":13.5},{"x":5.85,"y":15.5},{"x":5.92,"y":12.0},{"x":5.98,"y":14.5},{"x":5.3,"y":18.0},{"x":5.55,"y":20.0},{"x":5.8,"y":19.5},
{"x":5.02,"y":13.5},{"x":5.08,"y":16.0},{"x":5.15,"y":13.5},{"x":5.22,"y":12.0},{"x":5.28,"y":16.8},{"x":5.35,"y":14.5},{"x":5.42,"y":12.0},{"x":5.48,"y":14.5},{"x":5.55,"y":16.0},{"x":5.62,"y":12.5},{"x":5.68,"y":14.5},{"x":5.75,"y":12.0},{"x":5.82,"y":15.0},{"x":5.88,"y":13.0},{"x":5.95,"y":16.0},{"x":5.4,"y":17.0},{"x":5.65,"y":17.5},{"x":5.9,"y":18.0},
{"x":5.04,"y":15.5},{"x":5.14,"y":16.5},{"x":5.24,"y":13.0},{"x":5.34,"y":15.5},{"x":5.44,"y":16.0},{"x":5.54,"y":14.0},{"x":5.64,"y":15.5},{"x":5.74,"y":14.5},{"x":5.84,"y":12.5},{"x":5.94,"y":14.0},{"x":5.2,"y":18.0},{"x":5.5,"y":19.0},{"x":5.76,"y":18.5},{"x":5.96,"y":20.0},{"x":5.36,"y":10.0},{"x":5.7,"y":9.0},
{"x":6.02,"y":12.0},{"x":6.05,"y":16.5},{"x":6.08,"y":10.0},{"x":6.09,"y":5.1},{"x":6.1,"y":19.5},{"x":6.12,"y":14.0},{"x":6.15,"y":11.5},{"x":6.18,"y":17.5},{"x":6.2,"y":13.0},{"x":6.22,"y":22.5},{"x":6.25,"y":10.5},{"x":6.28,"y":15.5},{"x":6.3,"y":12.5},{"x":6.3,"y":8.5},{"x":6.32,"y":18.5},{"x":6.35,"y":14.5},{"x":6.38,"y":11.0},{"x":6.4,"y":16.0},{"x":6.42,"y":20.5},{"x":6.45,"y":13.0},{"x":6.48,"y":9.5},{"x":6.5,"y":15.0},{"x":6.52,"y":17.5},{"x":6.55,"y":12.0},{"x":6.58,"y":14.5},{"x":6.6,"y":24.0},{"x":6.61,"y":20.6},{"x":6.62,"y":11.0},{"x":6.65,"y":16.5},{"x":6.68,"y":13.5},{"x":6.68,"y":8.4},{"x":6.7,"y":19.0},{"x":6.72,"y":10.2},{"x":6.75,"y":15.0},{"x":6.78,"y":12.5},{"x":6.8,"y":17.0},{"x":6.82,"y":21.5},{"x":6.84,"y":7.7},{"x":6.85,"y":14.0},{"x":6.86,"y":22.2},{"x":6.88,"y":11.5},{"x":6.9,"y":16.0},{"x":6.92,"y":13.0},{"x":6.95,"y":18.5},{"x":6.98,"y":10.5},
{"x":6.05,"y":13.5},{"x":6.12,"y":16.0},{"x":6.18,"y":12.0},{"x":6.25,"y":14.0},{"x":6.32,"y":16.5},{"x":6.38,"y":13.0},{"x":6.45,"y":15.0},{"x":6.52,"y":11.5},{"x":6.58,"y":16.5},{"x":6.65,"y":14.0},{"x":6.72,"y":12.5},{"x":6.78,"y":15.0},{"x":6.85,"y":13.0},{"x":6.92,"y":15.0},{"x":6.98,"y":12.5},{"x":6.3,"y":20.0},{"x":6.55,"y":19.0},{"x":6.75,"y":18.0},
{"x":6.02,"y":14.5},{"x":6.08,"y":12.5},{"x":6.15,"y":15.0},{"x":6.22,"y":13.5},{"x":6.28,"y":17.0},{"x":6.35,"y":12.0},{"x":6.42,"y":14.0},{"x":6.48,"y":16.5},{"x":6.55,"y":13.5},{"x":6.62,"y":15.5},{"x":6.68,"y":11.8},{"x":6.75,"y":13.5},{"x":6.82,"y":16.0},{"x":6.88,"y":14.5},{"x":6.95,"y":12.0},{"x":6.2,"y":18.0},{"x":6.45,"y":18.5},{"x":6.7,"y":16.0},{"x":6.95,"y":14.0},{"x":6.15,"y":9.5},{"x":6.6,"y":10.0},
{"x":6.04,"y":15.0},{"x":6.14,"y":13.0},{"x":6.24,"y":16.0},{"x":6.34,"y":15.0},{"x":6.44,"y":17.0},{"x":6.54,"y":14.0},{"x":6.64,"y":18.0},{"x":6.74,"y":14.0},{"x":6.84,"y":15.5},{"x":6.94,"y":16.5},{"x":6.1,"y":18.0},{"x":6.4,"y":19.0},{"x":6.66,"y":21.5},{"x":6.9,"y":20.0},{"x":6.2,"y":11.0},{"x":6.5,"y":10.5},{"x":6.8,"y":10.5},
{"x":7.02,"y":14.5},{"x":7.05,"y":12.0},{"x":7.08,"y":17.0},{"x":7.1,"y":13.5},{"x":7.12,"y":20.0},{"x":7.15,"y":11.0},{"x":7.15,"y":23.2},{"x":7.18,"y":15.5},{"x":7.19,"y":8.0},{"x":7.2,"y":22.0},{"x":7.22,"y":13.0},{"x":7.25,"y":16.5},{"x":7.28,"y":10.5},{"x":7.3,"y":18.5},{"x":7.32,"y":14.0},{"x":7.35,"y":24.5},{"x":7.38,"y":12.0},{"x":7.4,"y":7.4},{"x":7.4,"y":15.5},{"x":7.42,"y":20.5},{"x":7.45,"y":11.0},{"x":7.48,"y":17.0},{"x":7.5,"y":13.5},{"x":7.52,"y":9.5},{"x":7.55,"y":21.0},{"x":7.58,"y":14.5},{"x":7.6,"y":12.0},{"x":7.62,"y":18.0},{"x":7.62,"y":22.4},{"x":7.65,"y":10.5},{"x":7.68,"y":15.0},{"x":7.69,"y":30.0},{"x":7.7,"y":23.0},{"x":7.72,"y":13.0},{"x":7.75,"y":16.5},{"x":7.76,"y":21.7},{"x":7.78,"y":11.5},{"x":7.8,"y":19.5},{"x":7.82,"y":14.0},{"x":7.85,"y":12.5},{"x":7.88,"y":17.0},{"x":7.91,"y":7.3},{"x":7.91,"y":28.8},{"x":7.92,"y":13.5},{"x":7.95,"y":21.5},{"x":7.98,"y":15.5},
{"x":7.05,"y":15.5},{"x":7.12,"y":13.0},{"x":7.18,"y":16.5},{"x":7.25,"y":14.5},{"x":7.32,"y":12.5},{"x":7.38,"y":16.0},{"x":7.45,"y":13.5},{"x":7.52,"y":15.5},{"x":7.58,"y":12.5},{"x":7.65,"y":17.0},{"x":7.72,"y":14.5},{"x":7.78,"y":13.0},{"x":7.85,"y":15.0},{"x":7.92,"y":11.5},{"x":7.98,"y":13.5},{"x":7.25,"y":19.5},{"x":7.5,"y":18.5},{"x":7.75,"y":20.5},
{"x":7.02,"y":13.5},{"x":7.08,"y":15.0},{"x":7.15,"y":14.0},{"x":7.22,"y":16.0},{"x":7.28,"y":13.5},{"x":7.35,"y":15.0},{"x":7.42,"y":14.0},{"x":7.48,"y":12.5},{"x":7.55,"y":16.0},{"x":7.62,"y":14.0},{"x":7.68,"y":12.5},{"x":7.75,"y":14.0},{"x":7.82,"y":16.0},{"x":7.88,"y":14.5},{"x":7.95,"y":13.0},{"x":7.1,"y":18.0},{"x":7.4,"y":18.0},{"x":7.65,"y":19.0},{"x":7.9,"y":18.5},{"x":7.3,"y":11.5},{"x":7.7,"y":11.0},
{"x":7.04,"y":16.5},{"x":7.14,"y":17.5},{"x":7.24,"y":14.0},{"x":7.34,"y":17.0},{"x":7.44,"y":16.0},{"x":7.54,"y":14.0},{"x":7.64,"y":16.0},{"x":7.74,"y":17.5},{"x":7.84,"y":13.5},{"x":7.94,"y":16.5},{"x":7.2,"y":20.0},{"x":7.48,"y":21.5},{"x":7.7,"y":20.0},{"x":7.96,"y":19.5},{"x":7.36,"y":10.0},{"x":7.6,"y":9.5},{"x":7.86,"y":10.5},
{"x":8.02,"y":13.5},{"x":8.05,"y":18.0},{"x":8.08,"y":11.0},{"x":8.1,"y":15.5},{"x":8.12,"y":22.0},{"x":8.15,"y":12.5},{"x":8.18,"y":16.5},{"x":8.2,"y":10.0},{"x":8.2,"y":27.0},{"x":8.22,"y":19.5},{"x":8.25,"y":14.0},{"x":8.28,"y":12.0},{"x":8.3,"y":24.5},{"x":8.32,"y":17.0},{"x":8.35,"y":13.0},{"x":8.38,"y":9.5},{"x":8.4,"y":15.5},{"x":8.42,"y":21.0},{"x":8.42,"y":28.5},{"x":8.45,"y":12.5},{"x":8.48,"y":18.0},{"x":8.5,"y":14.0},{"x":8.5,"y":29.0},{"x":8.52,"y":11.0},{"x":8.55,"y":20.0},{"x":8.56,"y":7.5},{"x":8.58,"y":15.0},{"x":8.6,"y":12.5},{"x":8.62,"y":25.5},{"x":8.65,"y":17.5},{"x":8.68,"y":13.5},{"x":8.7,"y":10.5},{"x":8.72,"y":19.0},{"x":8.75,"y":15.0},{"x":8.78,"y":22.5},{"x":8.8,"y":12.0},{"x":8.82,"y":16.5},{"x":8.85,"y":20.5},{"x":8.88,"y":14.0},{"x":8.9,"y":26.5},{"x":8.92,"y":18.0},{"x":8.95,"y":21.0},{"x":8.98,"y":15.5},
{"x":8.05,"y":14.0},{"x":8.12,"y":16.5},{"x":8.18,"y":13.0},{"x":8.25,"y":16.0},{"x":8.32,"y":14.5},{"x":8.38,"y":12.0},{"x":8.45,"y":16.0},{"x":8.52,"y":13.5},{"x":8.58,"y":17.5},{"x":8.65,"y":14.5},{"x":8.72,"y":12.5},{"x":8.78,"y":16.5},{"x":8.85,"y":13.5},{"x":8.92,"y":15.5},{"x":8.98,"y":12.0},{"x":8.3,"y":20.5},{"x":8.6,"y":21.0},{"x":8.85,"y":24.5},
{"x":8.02,"y":15.5},{"x":8.08,"y":13.5},{"x":8.15,"y":15.0},{"x":8.22,"y":12.5},{"x":8.28,"y":15.5},{"x":8.35,"y":16.5},{"x":8.42,"y":14.0},{"x":8.48,"y":15.5},{"x":8.55,"y":13.0},{"x":8.62,"y":16.0},{"x":8.68,"y":15.5},{"x":8.75,"y":13.5},{"x":8.82,"y":14.5},{"x":8.88,"y":17.0},{"x":8.95,"y":14.0},{"x":8.15,"y":19.0},{"x":8.45,"y":19.5},{"x":8.7,"y":17.5},{"x":8.95,"y":18.5},{"x":8.1,"y":12.0},{"x":8.5,"y":11.5},{"x":8.9,"y":11.0},
{"x":8.04,"y":16.5},{"x":8.14,"y":14.0},{"x":8.24,"y":17.5},{"x":8.34,"y":15.0},{"x":8.44,"y":17.5},{"x":8.54,"y":15.5},{"x":8.64,"y":13.0},{"x":8.74,"y":16.0},{"x":8.84,"y":18.5},{"x":8.94,"y":16.0},{"x":8.2,"y":21.5},{"x":8.5,"y":22.5},{"x":8.76,"y":20.0},{"x":8.4,"y":10.5},{"x":8.8,"y":10.0},
{"x":9.02,"y":22.5},{"x":9.05,"y":17.0},{"x":9.07,"y":10.2},{"x":9.08,"y":25.0},{"x":9.1,"y":14.5},{"x":9.12,"y":20.0},{"x":9.15,"y":12.0},{"x":9.18,"y":27.5},{"x":9.2,"y":16.5},{"x":9.22,"y":22.0},{"x":9.25,"y":13.5},{"x":9.28,"y":19.0},{"x":9.3,"y":15.0},{"x":9.35,"y":23.5},{"x":9.38,"y":28.1},{"x":9.38,"y":12.5},{"x":9.43,"y":10.5},{"x":9.45,"y":17.5},{"x":9.5,"y":20.5},{"x":9.55,"y":14.0},{"x":9.6,"y":25.5},{"x":9.62,"y":16.5},{"x":9.66,"y":28.8},{"x":9.7,"y":12.5},{"x":9.72,"y":19.5},{"x":9.78,"y":27.4},{"x":9.8,"y":15.5},{"x":9.85,"y":22.0},{"x":9.91,"y":14.0},{"x":9.95,"y":17.0},{"x":9.99,"y":22.8},
{"x":9.06,"y":19.0},{"x":9.16,"y":15.0},{"x":9.26,"y":21.0},{"x":9.36,"y":17.0},{"x":9.46,"y":13.0},{"x":9.56,"y":18.5},{"x":9.66,"y":21.5},{"x":9.76,"y":17.0},{"x":9.86,"y":19.0},{"x":9.96,"y":12.0},
{"x":10.04,"y":15.3},{"x":10.09,"y":19.3},{"x":10.12,"y":23.9},{"x":10.15,"y":24.6},{"x":10.15,"y":22.8},{"x":10.21,"y":28.9},{"x":10.24,"y":13.1},{"x":10.3,"y":24.6},{"x":10.33,"y":25.4},{"x":10.42,"y":13.0},{"x":10.47,"y":24.3},{"x":10.53,"y":14.2},{"x":10.6,"y":21.4},{"x":10.61,"y":15.8},{"x":10.67,"y":27.3},{"x":10.69,"y":26.1},{"x":10.73,"y":25.2},{"x":10.73,"y":15.3},{"x":10.78,"y":10.2},{"x":10.8,"y":21.4},{"x":10.95,"y":32.9},{"x":10.98,"y":17.7},{"x":11.11,"y":13.3},{"x":11.14,"y":13.1},{"x":11.15,"y":26.5},{"x":11.22,"y":12.4},{"x":11.29,"y":13.8},{"x":11.38,"y":26.2},{"x":11.38,"y":21.3},{"x":11.38,"y":20.4},{"x":11.42,"y":16.4},{"x":11.44,"y":28.4},{"x":11.49,"y":13.4},{"x":11.5,"y":23.9},{"x":11.58,"y":20.6},{"x":11.6,"y":17.1},{"x":11.74,"y":23.2},{"x":11.75,"y":20.0},{"x":11.75,"y":12.4},{"x":11.85,"y":25.4},{"x":11.92,"y":25.7},{"x":11.96,"y":26.1},{"x":11.96,"y":14.2},{"x":11.98,"y":28.3},{"x":11.85,"y":33.4},{"x":11.96,"y":33.5},{"x":12.05,"y":34.1},{"x":12.02,"y":32.4},{"x":11.89,"y":31.1},{"x":12.1,"y":30.8},{"x":11.91,"y":29.9},
{"x":12.13,"y":16.5},{"x":12.16,"y":15.8},{"x":12.16,"y":18.5},{"x":12.23,"y":15.7},{"x":12.3,"y":20.2},{"x":12.36,"y":15.6},{"x":12.38,"y":27.1},{"x":12.36,"y":31.2},{"x":12.52,"y":31.3},{"x":12.83,"y":31.7},{"x":12.36,"y":20.2},{"x":12.45,"y":16.2},{"x":12.62,"y":21.4},{"x":12.57,"y":19.1},{"x":12.81,"y":19.2},{"x":12.83,"y":18.1},{"x":12.98,"y":17.8},{"x":12.78,"y":16.3},{"x":12.93,"y":12.4},{"x":12.74,"y":26.4},{"x":13.06,"y":23.1},{"x":13.19,"y":24.0},{"x":13.25,"y":24.1},{"x":13.25,"y":29.4},{"x":13.33,"y":16.0},{"x":13.49,"y":24.7},{"x":13.55,"y":22.7},{"x":13.54,"y":21.4},{"x":13.57,"y":21.8},{"x":13.64,"y":37.3},{"x":13.71,"y":18.6},{"x":13.72,"y":25.4},{"x":13.98,"y":19.4},{"x":14.1,"y":20.8},{"x":14.12,"y":25.6},{"x":14.17,"y":26.2},{"x":14.22,"y":15.4},{"x":14.32,"y":17.6},{"x":14.37,"y":27.0},{"x":14.35,"y":25.0},{"x":14.42,"y":24.7},{"x":14.38,"y":25.5},{"x":14.45,"y":25.2},{"x":14.4,"y":29.7},{"x":14.49,"y":29.7},{"x":14.58,"y":30.4},{"x":14.65,"y":29.5},{"x":14.6,"y":29.0},{"x":14.77,"y":28.7},{"x":14.41,"y":28.8},{"x":14.41,"y":34.5},{"x":14.55,"y":25.7},{"x":14.65,"y":18.4},{"x":14.7,"y":17.0},{"x":14.72,"y":26.3},{"x":14.75,"y":39.2},{"x":14.88,"y":23.0},{"x":14.92,"y":15.3},{"x":14.97,"y":22.4},{"x":14.97,"y":34.1},{"x":15.18,"y":21.2},{"x":15.61,"y":26.2},{"x":15.69,"y":21.8},{"x":15.74,"y":19.6},{"x":15.9,"y":20.7},{"x":15.91,"y":20.0},{"x":16.06,"y":33.1},{"x":16.19,"y":21.7},{"x":16.26,"y":21.7},{"x":16.19,"y":19.7},{"x":16.2,"y":17.5},{"x":16.56,"y":29.3},{"x":16.8,"y":23.8},{"x":16.98,"y":21.0},{"x":17.06,"y":24.4},{"x":17.15,"y":21.0},{"x":17.35,"y":19.1},{"x":17.38,"y":33.5},{"x":17.46,"y":33.7},{"x":17.6,"y":15.8},{"x":17.67,"y":16.1},{"x":17.69,"y":16.3},{"x":17.82,"y":4.0},{"x":17.86,"y":27.6},{"x":17.95,"y":20.8},{"x":18.03,"y":15.3},{"x":18.38,"y":32.7},{"x":18.58,"y":16.2}
]},
"layer":[
{"data":{"name":"cargo"},"mark":{"type":"point","filled":true,"opacity":1,"size":64},
"encoding":{
"x":{"field":"x","type":"quantitative","scale":{"domain":[0,20]},"axis":{"values":[0,2,4,6,8,10,12,14,16,18,20],"title":"Trip distance (km)","labelPadding":16,"titlePadding":5}},
"y":{"field":"y","type":"quantitative","scale":{"domain":[0,70]},"axis":{"values":[0,10,20,30,40,50,60,70],"title":"Travel time (min)","labelPadding":20,"titlePadding":12}},
"color":{"datum":"Cargo cycle travel time","scale":{"domain":["Cargo cycle travel time","Car travel time"],"range":["#F7795C","#1C1F47"]},
"legend":{"orient":"none","legendX":-80,"legendY":541,"direction":"horizontal","title":"NOTE: 1 km = 0.621 miles","titleLimit":500,"titleOrient":"left","titleFontSize":23,"titleFontWeight":"normal","titleColor":"#000","titlePadding":46,"titleBaseline":"middle","labelFontSize":28,"labelColor":"#000","labelLimit":500,"labelOffset":4,"columnPadding":22,"symbolSize":60,"symbolStrokeWidth":0,
"encode":{"symbols":{"update":{"size":{"signal":"datum.value === 'Car travel time' ? 22 : 60"},"strokeWidth":{"value":0},"opacity":{"value":1}}}}}},
"shape":{"datum":"Cargo cycle travel time","scale":{"domain":["Cargo cycle travel time","Car travel time"],"range":["square","circle"]},
"legend":{"orient":"none","legendX":-80,"legendY":541,"direction":"horizontal","title":"NOTE: 1 km = 0.621 miles","titleLimit":500,"titleOrient":"left","titleFontSize":23,"titleFontWeight":"normal","titleColor":"#000","titlePadding":46,"titleBaseline":"middle","labelFontSize":28,"labelColor":"#000","labelLimit":500,"labelOffset":4,"columnPadding":22,"symbolSize":60,"symbolStrokeWidth":0}}
}},
{"data":{"name":"car"},"mark":{"type":"point","filled":true,"opacity":1,"size":26},
"encoding":{"x":{"field":"x","type":"quantitative"},"y":{"field":"y","type":"quantitative"},"color":{"datum":"Car travel time"},"shape":{"datum":"Car travel time"}}}
]
}
